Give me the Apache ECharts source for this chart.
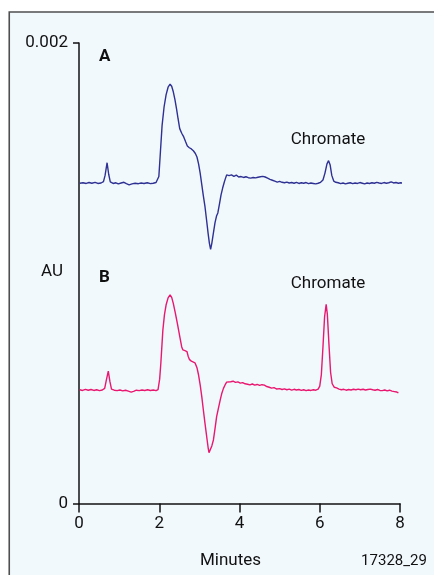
<!DOCTYPE html>
<html>
<head>
<meta charset="utf-8">
<title>Chromate chromatograms</title>
<script src="https://cdn.jsdelivr.net/npm/echarts@6/dist/echarts.min.js"></script>
<style>
  html, body { margin: 0; padding: 0; background: #ffffff; }
  #chart { width: 434px; height: 575px; }
</style>
</head>
<body>
<div id="chart"></div>
<script>
// Time axis (minutes) and absorbance axis (AU)
const xTicks = [0, 2, 4, 6, 8];
const yTicks = [0, 0.002];

// Trace A: [minutes, AU]
const traceA = [
  [0.02, 0.001391], [0.10, 0.001393], [0.18, 0.001390], [0.25, 0.001394], [0.32, 0.001391],
  [0.40, 0.001395], [0.47, 0.001390], [0.55, 0.001392], [0.61, 0.001398], [0.65, 0.001425],
  [0.70, 0.001480], [0.74, 0.001430], [0.78, 0.001397], [0.85, 0.001390], [0.92, 0.001393],
  [0.98, 0.001388], [1.05, 0.001392], [1.12, 0.001395], [1.18, 0.001389], [1.25, 0.001384],
  [1.32, 0.001388], [1.40, 0.001391], [1.48, 0.001389], [1.55, 0.001392], [1.62, 0.001390],
  [1.70, 0.001393], [1.78, 0.001389], [1.85, 0.001391], [1.92, 0.001394], [1.95, 0.001396],
  [1.99, 0.001420], [2.03, 0.001530], [2.07, 0.001640], [2.12, 0.001722], [2.17, 0.001775],
  [2.22, 0.001808], [2.27, 0.001821], [2.31, 0.001812], [2.35, 0.001788], [2.39, 0.001755],
  [2.43, 0.001715], [2.47, 0.001670], [2.51, 0.001628], [2.56, 0.001608], [2.61, 0.001592],
  [2.66, 0.001570], [2.70, 0.001553], [2.75, 0.001545], [2.80, 0.001540], [2.85, 0.001532],
  [2.90, 0.001520], [2.94, 0.001505], [2.98, 0.001475], [3.02, 0.001435], [3.06, 0.001385],
  [3.10, 0.001335], [3.14, 0.001289], [3.18, 0.001230], [3.22, 0.001170], [3.25, 0.001130],
  [3.28, 0.001104], [3.31, 0.001130], [3.35, 0.001175], [3.39, 0.001220], [3.43, 0.001250],
  [3.46, 0.001262], [3.50, 0.001300], [3.54, 0.001340], [3.58, 0.001370], [3.62, 0.001395],
  [3.65, 0.001412], [3.68, 0.001427], [3.74, 0.001424], [3.80, 0.001427], [3.86, 0.001421],
  [3.92, 0.001426], [3.98, 0.001418], [4.04, 0.001420], [4.10, 0.001416], [4.16, 0.001419],
  [4.22, 0.001415], [4.28, 0.001413], [4.34, 0.001416], [4.40, 0.001414], [4.46, 0.001417],
  [4.52, 0.001419], [4.58, 0.001421], [4.64, 0.001418], [4.70, 0.001413], [4.76, 0.001408],
  [4.82, 0.001404], [4.88, 0.001400], [4.94, 0.001396], [5.00, 0.001399], [5.06, 0.001395],
  [5.12, 0.001393], [5.18, 0.001396], [5.24, 0.001392], [5.30, 0.001394], [5.36, 0.001391],
  [5.42, 0.001395], [5.48, 0.001390], [5.54, 0.001393], [5.60, 0.001391], [5.66, 0.001394],
  [5.72, 0.001389], [5.78, 0.001392], [5.84, 0.001390], [5.90, 0.001388], [5.96, 0.001391],
  [6.02, 0.001395], [6.08, 0.001405], [6.13, 0.001435], [6.18, 0.001475], [6.22, 0.001489],
  [6.26, 0.001470], [6.30, 0.001425], [6.35, 0.001400], [6.40, 0.001395], [6.46, 0.001393],
  [6.52, 0.001389], [6.58, 0.001392], [6.64, 0.001388], [6.70, 0.001391], [6.76, 0.001393],
  [6.82, 0.001389], [6.88, 0.001392], [6.94, 0.001390], [7.00, 0.001394], [7.06, 0.001391],
  [7.12, 0.001388], [7.18, 0.001392], [7.24, 0.001390], [7.30, 0.001393], [7.36, 0.001391],
  [7.42, 0.001395], [7.48, 0.001392], [7.54, 0.001390], [7.60, 0.001394], [7.66, 0.001391],
  [7.72, 0.001393], [7.78, 0.001397], [7.84, 0.001392], [7.90, 0.001394], [7.96, 0.001391],
  [8.02, 0.001393], [8.07, 0.001391]
];

// Trace B: [minutes, AU]
const traceB = [
  [0.02, 0.000494], [0.09, 0.000491], [0.16, 0.000496], [0.23, 0.000492], [0.30, 0.000495],
  [0.37, 0.000491], [0.44, 0.000494], [0.51, 0.000490], [0.58, 0.000493], [0.64, 0.000500],
  [0.68, 0.000535], [0.73, 0.000575], [0.77, 0.000530], [0.81, 0.000497], [0.88, 0.000492],
  [0.95, 0.000490], [1.02, 0.000493], [1.09, 0.000489], [1.16, 0.000492], [1.23, 0.000488],
  [1.30, 0.000484], [1.36, 0.000487], [1.43, 0.000492], [1.50, 0.000490], [1.57, 0.000493],
  [1.64, 0.000491], [1.71, 0.000494], [1.78, 0.000491], [1.85, 0.000493], [1.92, 0.000490],
  [1.97, 0.000495], [2.01, 0.000540], [2.04, 0.000610], [2.09, 0.000753], [2.13, 0.000820],
  [2.17, 0.000862], [2.22, 0.000893], [2.27, 0.000906], [2.31, 0.000895], [2.35, 0.000869],
  [2.40, 0.000828], [2.45, 0.000783], [2.52, 0.000717], [2.56, 0.000680], [2.59, 0.000667],
  [2.64, 0.000664], [2.69, 0.000660], [2.72, 0.000640], [2.75, 0.000626], [2.80, 0.000618],
  [2.89, 0.000611], [2.94, 0.000590], [2.98, 0.000558], [3.02, 0.000515], [3.06, 0.000464],
  [3.10, 0.000405], [3.14, 0.000348], [3.19, 0.000280], [3.22, 0.000240], [3.24, 0.000221],
  [3.27, 0.000228], [3.31, 0.000250], [3.35, 0.000276], [3.39, 0.000325], [3.43, 0.000377],
  [3.47, 0.000410], [3.52, 0.000450], [3.56, 0.000479], [3.60, 0.000500], [3.64, 0.000515],
  [3.68, 0.000527], [3.72, 0.000532], [3.78, 0.000529], [3.84, 0.000531], [3.90, 0.000526],
  [3.96, 0.000528], [4.02, 0.000523], [4.08, 0.000525], [4.14, 0.000520], [4.20, 0.000518],
  [4.26, 0.000515], [4.32, 0.000519], [4.38, 0.000514], [4.44, 0.000517], [4.50, 0.000513],
  [4.56, 0.000516], [4.62, 0.000514], [4.68, 0.000508], [4.74, 0.000505], [4.80, 0.000501],
  [4.86, 0.000503], [4.93, 0.000497], [5.00, 0.000499], [5.06, 0.000495], [5.12, 0.000498],
  [5.18, 0.000494], [5.24, 0.000497], [5.30, 0.000492], [5.36, 0.000496], [5.42, 0.000493],
  [5.48, 0.000495], [5.54, 0.000491], [5.60, 0.000494], [5.66, 0.000490], [5.72, 0.000493],
  [5.78, 0.000491], [5.84, 0.000494], [5.90, 0.000492], [5.96, 0.000497], [6.00, 0.000510],
  [6.04, 0.000560], [6.08, 0.000680], [6.12, 0.000810], [6.16, 0.000865], [6.19, 0.000820],
  [6.23, 0.000690], [6.27, 0.000570], [6.31, 0.000520], [6.36, 0.000505], [6.42, 0.000502],
  [6.48, 0.000497], [6.54, 0.000494], [6.60, 0.000496], [6.66, 0.000492], [6.72, 0.000495],
  [6.78, 0.000493], [6.84, 0.000496], [6.90, 0.000494], [6.96, 0.000497], [7.02, 0.000494],
  [7.08, 0.000496], [7.14, 0.000493], [7.20, 0.000495], [7.26, 0.000497], [7.32, 0.000494],
  [7.38, 0.000492], [7.44, 0.000495], [7.50, 0.000491], [7.56, 0.000490], [7.62, 0.000493],
  [7.68, 0.000489], [7.74, 0.000492], [7.80, 0.000488], [7.86, 0.000486], [7.92, 0.000484],
  [7.96, 0.000481]
];

const FONT = 'Roboto, "Liberation Sans", sans-serif';
const chart = echarts.init(document.getElementById('chart'), null, { renderer: 'canvas' });

chart.setOption({
  animation: false,
  backgroundColor: '#ffffff',
  textStyle: { fontFamily: FONT },
  grid: { left: 79, right: 34, top: 43, bottom: 71.5, outerBoundsMode: 'none', containLabel: false },
  xAxis: {
    type: 'value',
    min: xTicks[0],
    max: xTicks[xTicks.length - 1],
    interval: xTicks[1] - xTicks[0],
    splitLine: { show: false },
    axisLine: { show: true, onZero: false, lineStyle: { color: '#111', width: 1.5 } },
    axisTick: { show: true, inside: false, length: 9, lineStyle: { color: '#111', width: 1.5 } },
    axisLabel: { color: '#111', fontSize: 17, fontFamily: FONT, margin: 12 }
  },
  yAxis: {
    type: 'value',
    min: yTicks[0],
    max: yTicks[yTicks.length - 1],
    interval: yTicks[1] - yTicks[0],
    splitLine: { show: false },
    axisLine: { show: true, onZero: false, lineStyle: { color: '#111', width: 1.5 } },
    axisTick: { show: true, inside: false, length: 6, lineStyle: { color: '#111', width: 1.5 } },
    axisLabel: {
      color: '#111', fontSize: 17, fontFamily: FONT, margin: 11,
      formatter: v => (v === 0 ? '0' : v.toFixed(3))
    }
  },
  series: [
    {
      name: 'A', type: 'line', data: traceA, showSymbol: false, clip: false, z: 3,
      lineStyle: { color: '#2e3192', width: 1.4 }
    },
    {
      name: 'B', type: 'line', data: traceB, showSymbol: false, clip: false, z: 3,
      lineStyle: { color: '#e8176f', width: 1.4 }
    }
  ],
  graphic: [
    {
      type: 'rect', z: -10, silent: true,
      shape: { x: 9.25, y: 12, width: 520, height: 620 },
      style: { fill: '#f2f9fd', stroke: '#4f4f4f', lineWidth: 1.6 }
    },
    { type: 'text', x: 99, y: 57, style: { text: 'A', font: 'bold 17px ' + FONT, fill: '#111', verticalAlign: 'middle' } },
    { type: 'text', x: 99, y: 278, style: { text: 'B', font: 'bold 17px ' + FONT, fill: '#111', verticalAlign: 'middle' } },
    { type: 'text', x: 328, y: 140, style: { text: 'Chromate', font: '17px ' + FONT, fill: '#111', align: 'center', verticalAlign: 'middle' } },
    { type: 'text', x: 328, y: 284, style: { text: 'Chromate', font: '17px ' + FONT, fill: '#111', align: 'center', verticalAlign: 'middle' } },
    { type: 'text', x: 52, y: 272, style: { text: 'AU', font: '17px ' + FONT, fill: '#111', align: 'center', verticalAlign: 'middle' } },
    { type: 'text', x: 230.5, y: 561, style: { text: 'Minutes', font: '17px ' + FONT, fill: '#111', align: 'center', verticalAlign: 'middle' } },
    { type: 'text', x: 394, y: 561, style: { text: '17328_29', font: '15px ' + FONT, fill: '#111', align: 'center', verticalAlign: 'middle' } }
  ]
});
</script>
</body>
</html>
